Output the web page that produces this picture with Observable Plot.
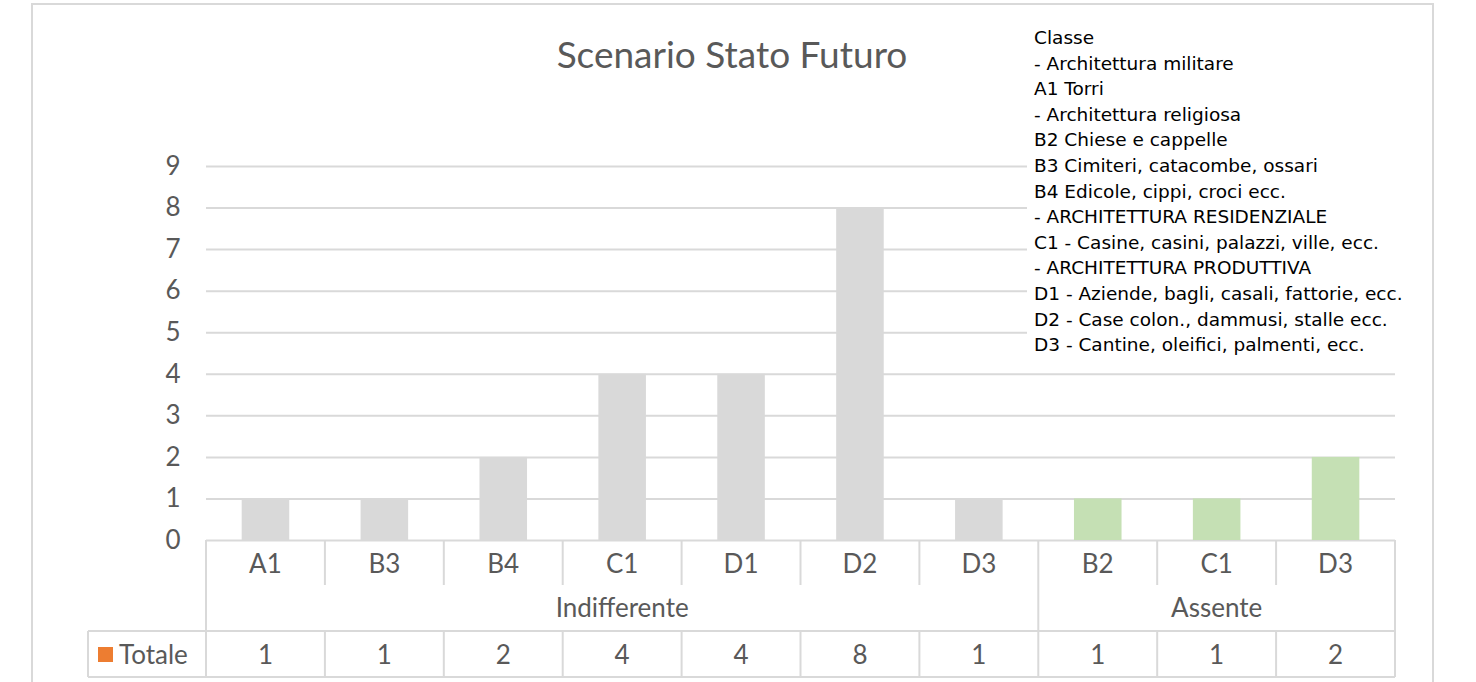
<!DOCTYPE html>
<html>
<head>
<meta charset="utf-8">
<script src="https://cdn.jsdelivr.net/npm/d3@7"></script>
<script src="https://cdn.jsdelivr.net/npm/@observablehq/plot@0.6"></script>
<style>
  html, body { margin: 0; padding: 0; background: #fff; }
  #wrap { position: relative; width: 1476px; height: 682px; overflow: hidden; font-family: Lato, "Open Sans", sans-serif; }
  #frame { position: absolute; left: 31px; top: 3px; width: 1403px; height: 700px; border: 2px solid #D9D9D9; box-sizing: border-box; }
  #title { position: absolute; left: 0; width: 1464px; top: 31px; text-align: center; font-size: 37px; color: #595959; }
  #legend { position: absolute; left: 1027px; top: 25px; width: 395px; height: 332px; background: #fff; padding-left: 7px; box-sizing: border-box;
            font-family: "DejaVu Sans", Verdana, sans-serif; font-size: 18.5px; line-height: 25.6px; color: #000; white-space: nowrap; }
  #chart { position: absolute; left: 0; top: 0; }
</style>
</head>
<body>
<div id="wrap">
  <div id="frame"></div>
  <div id="chart"></div>
  <div id="title"></div>
  <div id="legend"></div>
</div>
<script>
const titleText = "Scenario Stato Futuro";
const groupNames = ["Indifferente", "Assente"];
const categories = ["A1", "B3", "B4", "C1", "D1", "D2", "D3", "B2", "C1", "D3"];
const categoryGroups = ["Indifferente", "Indifferente", "Indifferente", "Indifferente", "Indifferente", "Indifferente", "Indifferente", "Assente", "Assente", "Assente"];
const totals = [1, 1, 2, 4, 4, 8, 1, 1, 1, 2];
const yTicks = [0, 1, 2, 3, 4, 5, 6, 7, 8, 9];
const seriesName = "Totale";
const legendLines = [
  "Classe",
  "- Architettura militare",
  "A1 Torri",
  "- Architettura religiosa",
  "B2 Chiese e cappelle",
  "B3 Cimiteri, catacombe, ossari",
  "B4 Edicole, cippi, croci ecc.",
  "- ARCHITETTURA RESIDENZIALE",
  "C1 - Casine, casini, palazzi, ville, ecc.",
  "- ARCHITETTURA PRODUTTIVA",
  "D1 - Aziende, bagli, casali, fattorie, ecc.",
  "D2 - Case colon., dammusi, stalle ecc.",
  "D3 - Cantine, oleifici, palmenti, ecc."
];

const data = categories.map((c, i) => ({
  key: categoryGroups[i] + "|" + c,
  cat: c,
  group: categoryGroups[i],
  value: totals[i]
}));
const keys = data.map(d => d.key);

document.getElementById("title").textContent = titleText;
const lg = document.getElementById("legend");
legendLines.forEach(t => { const d = document.createElement("div"); d.textContent = t; lg.appendChild(d); });

const grid = "#D9D9D9";
const textCol = "#595959";
const fs = 26;

function tableMark(index, scales, values, dims) {
  const x = scales.x, y = scales.y;
  const step = x.step(), bw = x.bandwidth();
  const y0 = y(0);
  const r1 = y0 + 45, r2 = y0 + 91, r3 = y0 + 137;
  const left = dims.marginLeft, right = dims.width - dims.marginRight;
  const tableLeft = left - 118;
  const g = d3.create("svg:g");
  const line = (x1, y1, x2, y2) => g.append("line").attr("x1", x1).attr("y1", y1).attr("x2", x2).attr("y2", y2)
    .attr("stroke", grid).attr("stroke-width", 2);
  const text = (tx, ty, s, anchor = "middle") => g.append("text").attr("x", tx).attr("y", ty).attr("text-anchor", anchor)
    .attr("dominant-baseline", "central").attr("fill", textCol).attr("font-size", fs).attr("font-family", "Lato").text(s);
  // horizontal lines
  line(left, r2, right, r2);
  line(tableLeft, r2, left, r2);
  line(tableLeft, r3, right, r3);
  // outer verticals
  line(left, y0, left, r3);
  line(right, y0, right, r3);
  line(tableLeft, r2, tableLeft, r3);
  const bound = k => x(k) + bw / 2 - step / 2;
  keys.forEach((k, i) => {
    if (i === 0) return;
    const bx = bound(k);
    if (data[i].group !== data[i - 1].group) {
      line(bx, y0, bx, r3);
    } else {
      line(bx, y0, bx, r1);
      line(bx, r2, bx, r3);
    }
  });
  data.forEach(d => {
    const cx = x(d.key) + bw / 2;
    text(cx, y0 + 23, d.cat);
    text(cx, r2 + 23, String(d.value));
  });
  groupNames.forEach(gn => {
    const ks = data.filter(d => d.group === gn).map(d => d.key);
    const a = bound(ks[0]);
    const b = bound(ks[ks.length - 1]) + step;
    text((a + b) / 2, r1 + 22, gn);
  });
  // legend key
  g.append("rect").attr("x", tableLeft + 10).attr("y", r2 + 16).attr("width", 15).attr("height", 15).attr("fill", "#ED7D31");
  text(tableLeft + 31, r2 + 23, seriesName, "start");
  return g.node();
}

const chart = Plot.plot({
  width: 1476,
  height: 682,
  marginTop: 166,
  marginBottom: 142,
  marginLeft: 206,
  marginRight: 81,
  style: { background: "transparent", fontFamily: "Lato", overflow: "visible" },
  x: { domain: keys, paddingInner: 0.6, paddingOuter: 0.3, round: false, axis: null },
  y: { domain: [0, 9], axis: null },
  color: { domain: groupNames, range: ["#D9D9D9", "#C5E0B4"] },
  marks: [
    Plot.gridY(yTicks, { stroke: grid, strokeOpacity: 1, strokeWidth: 2 }),
    Plot.axisY(yTicks, { tickSize: 0, tickPadding: 26, fontSize: fs, fill: textCol, label: null }),
    Plot.barY(data, { x: "key", y: "value", fill: "group" }),
    tableMark
  ]
});
document.getElementById("chart").appendChild(chart);
</script>
</body>
</html>
